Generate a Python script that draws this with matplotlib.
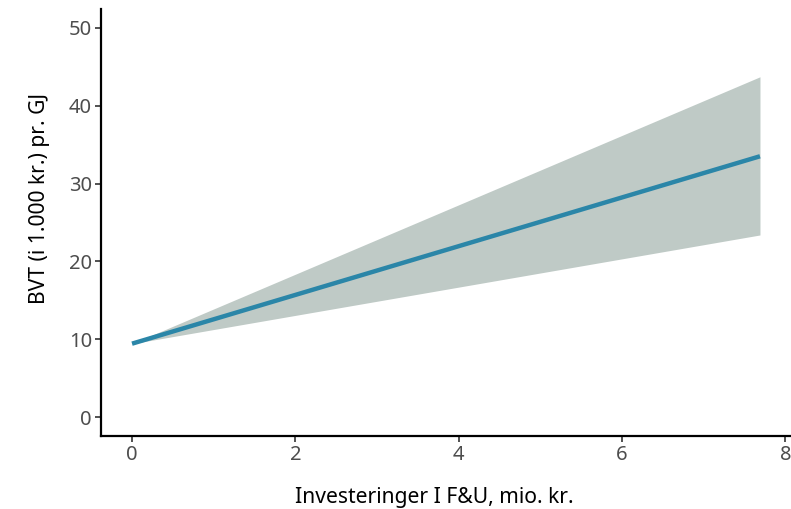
import matplotlib
matplotlib.use("Agg")
import matplotlib.pyplot as plt

plt.rcParams['font.family'] = ['Noto Sans', 'DejaVu Sans']

x = [0, 7.69]
fit = [9.45, 33.5]
lower = [9.45, 23.4]
upper = [9.45, 43.7]
xticks = [0, 2, 4, 6, 8]
yticks = [0, 10, 20, 30, 40, 50]

fig = plt.figure(figsize=(7.91, 5.09), dpi=100)
ax = fig.add_axes([101/791, 1-436/509, 1-101/791, (436-9)/509])
ax.fill_between(x, lower, upper, color='#BFCAC6', linewidth=0)
ax.plot(x, fit, color='#2B86A8', linewidth=3.2, solid_capstyle='butt')

ax.set_xlim(-0.38, 8.07)
ax.set_ylim(-2.4, 52.4)
ax.set_xticks(xticks)
ax.set_yticks(yticks)
for s in ['top', 'right']:
    ax.spines[s].set_visible(False)
for s in ['left', 'bottom']:
    ax.spines[s].set_linewidth(1.6)
    ax.spines[s].set_color('black')
ax.tick_params(axis='both', length=4, width=1.2, color='#333333',
               labelcolor='#4D4D4D', labelsize=14.5, pad=2.5)
ax.set_xlabel('Investeringer I F&U, mio. kr.', fontsize=15.2, color='black')
ax.xaxis.label.set_verticalalignment('baseline')
ax.xaxis.set_label_coords(((293 + 575) / 2 - 101) / 690, -(503 - 436) / 427)
ax.set_ylabel('BVT (i 1.000 kr.) pr. GJ', fontsize=15.2, color='black')
ax.yaxis.label.set_verticalalignment('baseline')
ax.yaxis.set_label_coords(-(101 - 45) / 690, (436 - (92 + 305) / 2) / 427)
fig.savefig('out.png', dpi=100)
